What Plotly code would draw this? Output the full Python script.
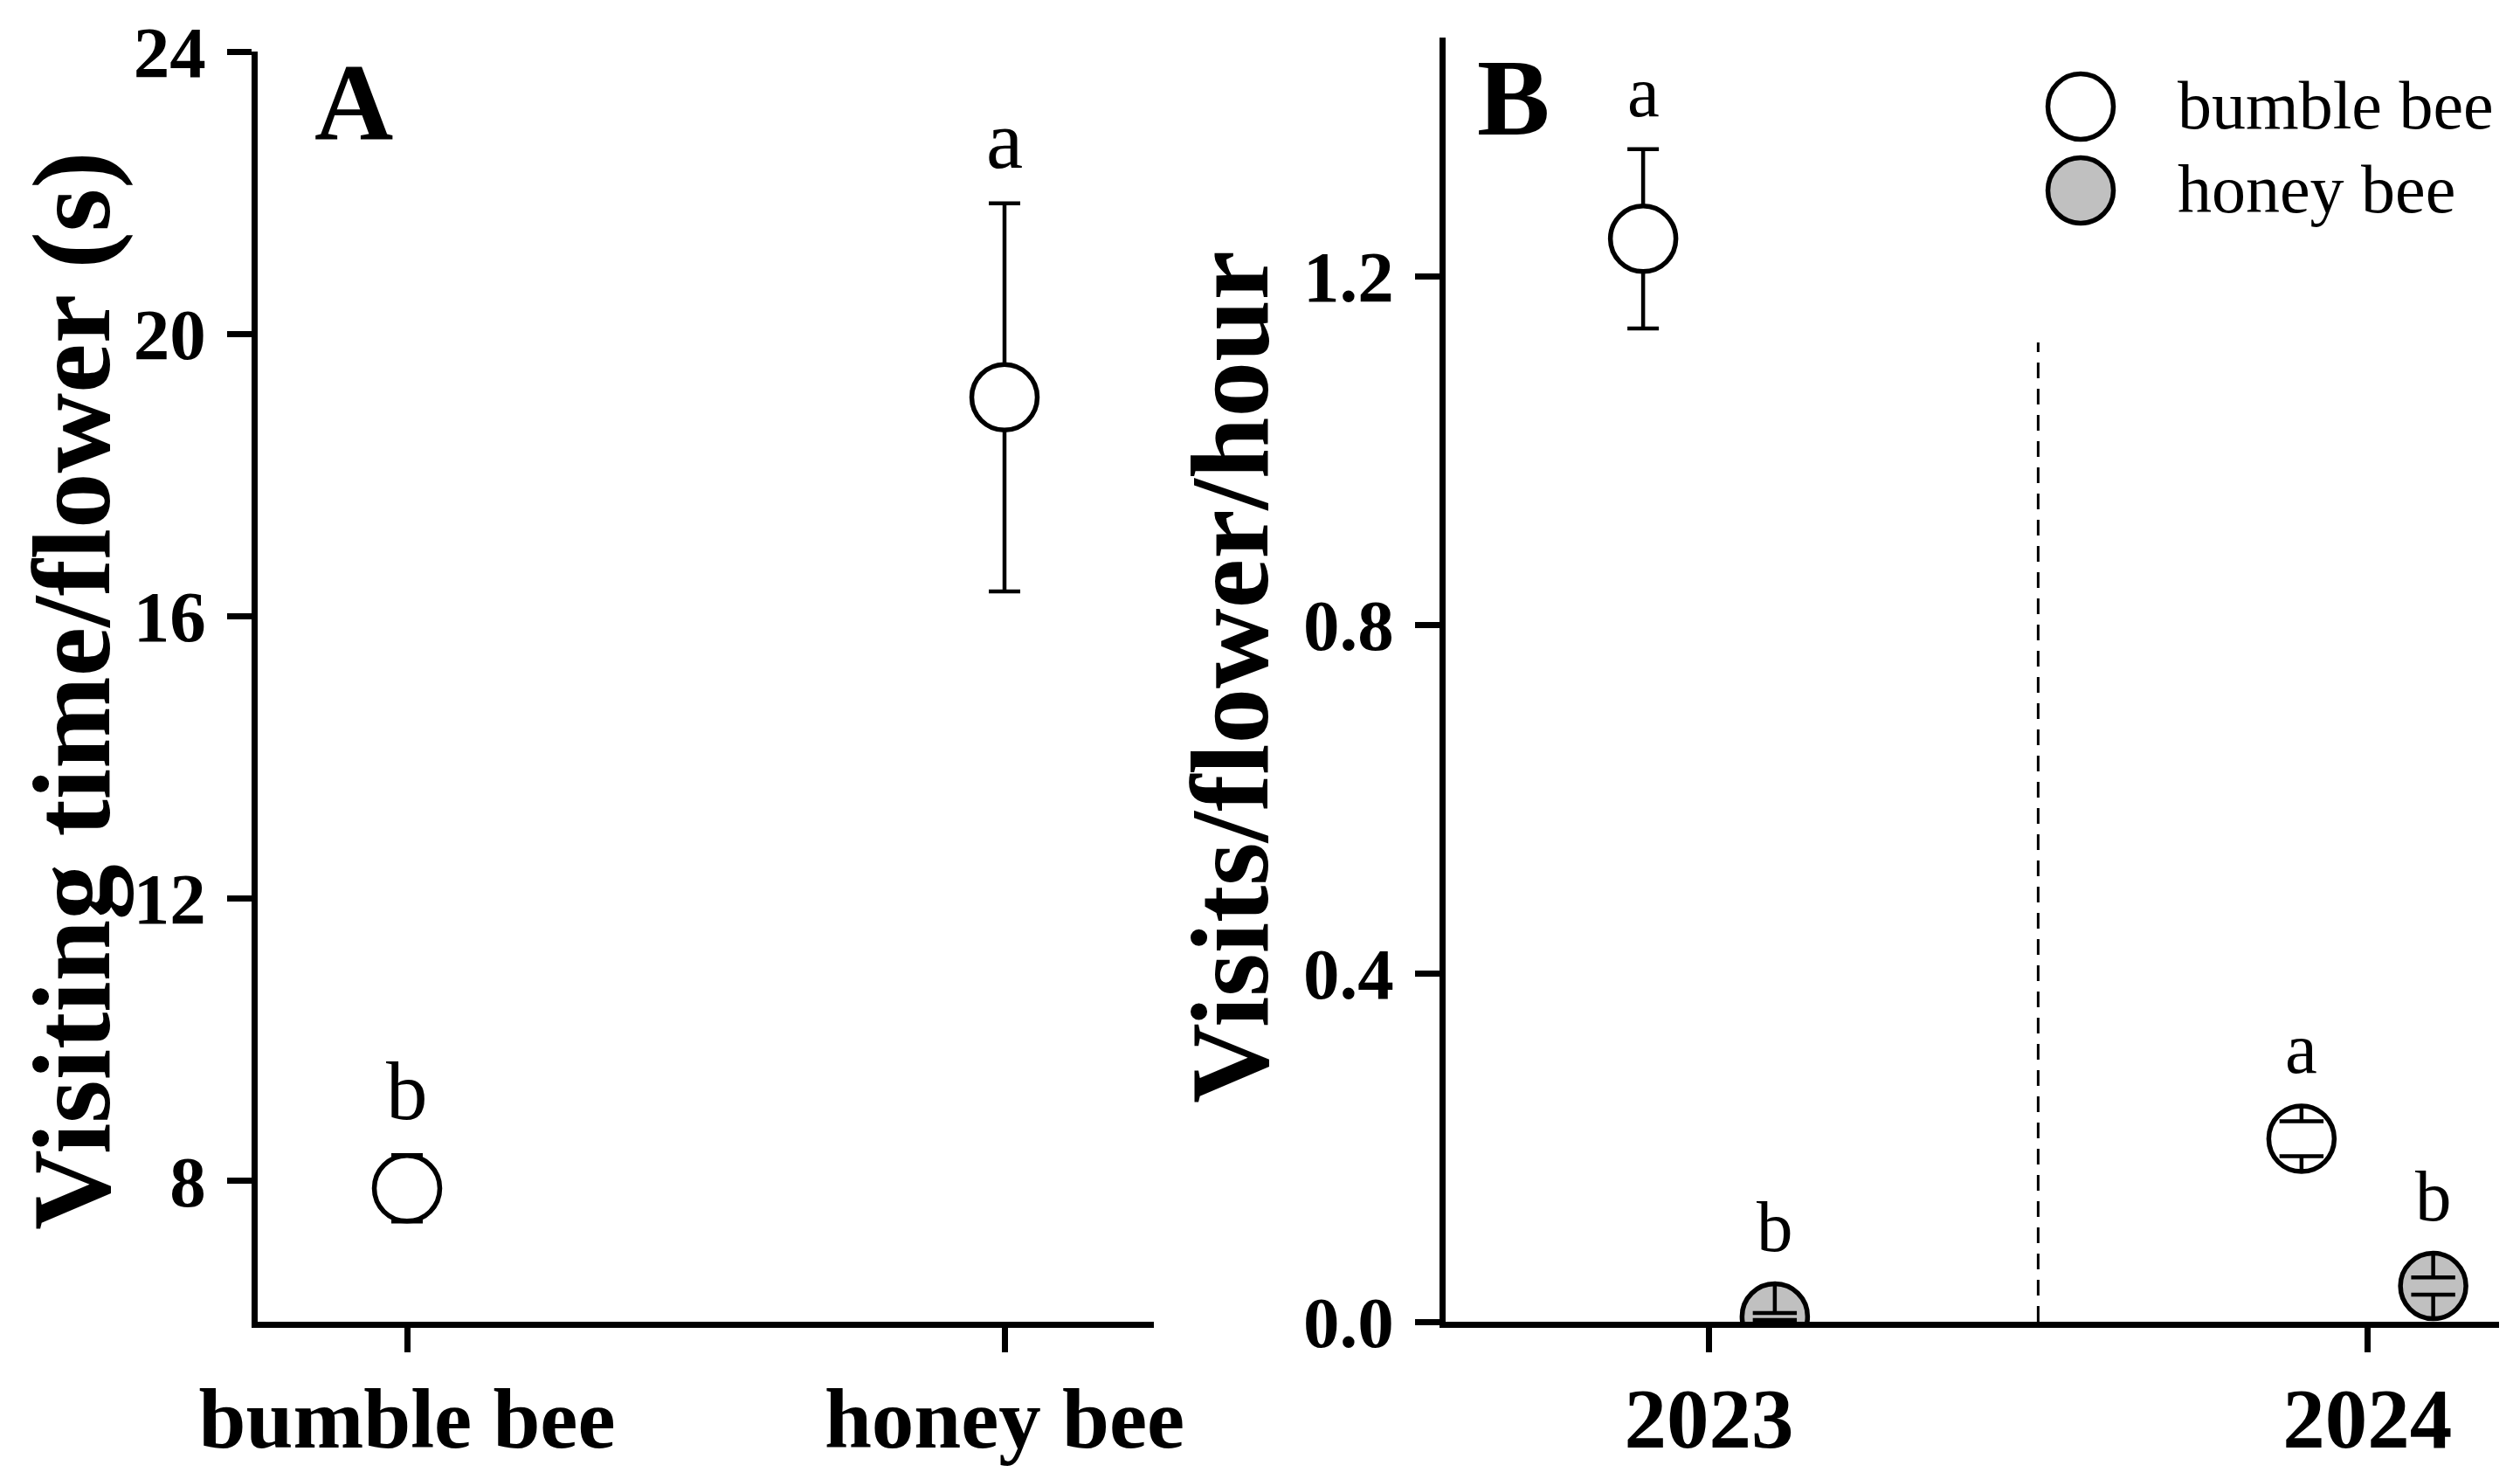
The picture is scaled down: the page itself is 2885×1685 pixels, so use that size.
import plotly.graph_objects as go

FIG_W, FIG_H = 2885, 1685
FONT = "Liberation Serif"

# panel A: visiting time per flower (s)
visit_categories = ["bumble bee", "honey bee"]
visit_time_mean = [7.89, 19.1]
visit_time_se = [0.47, 2.75]
visit_time_letters = ["b", "a"]

# panel B: visits per flower per hour
years = ["2023", "2024"]
bumble_rate_mean = [1.243, 0.21]
bumble_rate_se = [0.103, 0.02]
bumble_rate_letters = ["a", "a"]
honey_rate_mean = [0.006, 0.041]
honey_rate_se = [0.004, 0.010]
honey_rate_letters = ["b", "b"]

series_names = ["bumble bee", "honey bee"]

# geometry / style
A_YRANGE = [6, 24]
B_YRANGE = [0, 1.474]
A_XRANGE = [-0.25, 1.25]
B_XRANGE = [-0.40, 1.20]
A_XDOM = [295 / FIG_W, 1321 / FIG_W]
B_XDOM = [1655 / FIG_W, 2861 / FIG_W]
Y_BOTTOM = (FIG_H - 1513) / FIG_H
A_YDOM = [Y_BOTTOM, (FIG_H - 59) / FIG_H]
B_YDOM = [Y_BOTTOM, (FIG_H - 43) / FIG_H]
DIVIDER_TOP = 1.124

MARKER_SIZE = 75
MARKER_LINE = 5.5
CAP_HALF = 18
BAR_WIDTH = 4.5
AXIS_WIDTH = 6.5
DODGE = 0.1
LETTER_GAP = 19
WHITE = "white"
GREY = "#c0c0c0"


def px_per_unit(domain, rng):
    return (domain[1] - domain[0]) * FIG_H / (rng[1] - rng[0])


def add_means(fig, x, mean, se, fill, name, axes, ppu, letters, letter_size):
    xa, ya = axes
    # error bars first, the filled symbol hides the part inside the circle
    fig.add_trace(go.Scatter(
        x=x, y=mean, mode="markers", xaxis=xa, yaxis=ya,
        marker=dict(size=1, color="rgba(0,0,0,0)"),
        error_y=dict(type="data", array=se, color="black",
                     thickness=BAR_WIDTH, width=CAP_HALF),
        showlegend=False, hoverinfo="skip",
    ))
    fig.add_trace(go.Scatter(
        x=x, y=mean, mode="markers", name=name, xaxis=xa, yaxis=ya,
        marker=dict(size=MARKER_SIZE, color=fill,
                    line=dict(color="black", width=MARKER_LINE)),
        showlegend=False,
    ))

    # errors smaller than the symbol: caps inside, stubs out to the edge
    radius = MARKER_SIZE / 2 / ppu
    small = [i for i, s in enumerate(se) if s < 0.9 * radius]
    if small:
        xs = [x[i] for i in small]
        hi = [mean[i] + se[i] for i in small]
        lo = [mean[i] - se[i] for i in small]
        stub = [radius - se[i] for i in small]
        zeros = [0] * len(small)
        fig.add_trace(go.Scatter(
            x=xs + xs, y=hi + lo, mode="markers", xaxis=xa, yaxis=ya,
            marker=dict(symbol="line-ew", size=2 * CAP_HALF, color="black",
                        line=dict(color="black", width=BAR_WIDTH)),
            error_y=dict(type="data", symmetric=False, array=stub + zeros,
                         arrayminus=zeros + stub, color="black",
                         thickness=BAR_WIDTH, width=0),
            showlegend=False, hoverinfo="skip",
        ))

    for xi, m, s, t in zip(x, mean, se, letters):
        lift = max(s * ppu, MARKER_SIZE / 2) - s * ppu + LETTER_GAP
        fig.add_annotation(
            x=xi, y=m + s, xref=xa, yref=ya, text=t, showarrow=False,
            yanchor="bottom", yshift=lift, borderpad=0,
            font=dict(family=FONT, size=letter_size, color="black"),
        )


fig = go.Figure()

ppu_a = px_per_unit(A_YDOM, A_YRANGE)
ppu_b = px_per_unit(B_YDOM, B_YRANGE)

add_means(fig, visit_categories, visit_time_mean, visit_time_se, WHITE,
          "visiting time", ("x", "y"), ppu_a, visit_time_letters, 95)

year_pos = list(range(len(years)))
bumble_x = [p - DODGE for p in year_pos]
honey_x = [p + DODGE for p in year_pos]
add_means(fig, bumble_x, bumble_rate_mean, bumble_rate_se, WHITE,
          series_names[0], ("x2", "y2"), ppu_b, bumble_rate_letters, 83)
add_means(fig, honey_x, honey_rate_mean, honey_rate_se, GREY,
          series_names[1], ("x2", "y2"), ppu_b, honey_rate_letters, 83)

axis_common = dict(
    showline=True, linewidth=AXIS_WIDTH, linecolor="black", ticks="outside",
    ticklen=28, tickwidth=AXIS_WIDTH, tickcolor="black", showgrid=False,
    zeroline=False, automargin=False,
)
xtick_font = dict(family=FONT, size=97, color="black", weight="bold")
ytick_font = dict(family=FONT, size=83, color="black", weight="bold")

fig.update_layout(
    template="none",
    width=FIG_W, height=FIG_H,
    margin=dict(l=0, r=0, t=0, b=0, pad=0),
    paper_bgcolor="white", plot_bgcolor="white",
    font=dict(family=FONT, color="black"),
    showlegend=False,
    xaxis=dict(axis_common, domain=A_XDOM, anchor="y", type="category",
               range=A_XRANGE, tickfont=xtick_font, ticklabelstandoff=-7),
    yaxis=dict(axis_common, domain=A_YDOM, anchor="x", range=A_YRANGE,
               tick0=0, dtick=4, tickfont=ytick_font, ticklabelstandoff=8),
    xaxis2=dict(axis_common, domain=B_XDOM, anchor="y2", range=B_XRANGE,
                tickvals=year_pos, ticktext=years, tickfont=xtick_font,
                ticklabelstandoff=-7),
    yaxis2=dict(axis_common, domain=B_YDOM, anchor="x2", range=B_YRANGE,
                tick0=0, dtick=0.4, tickformat=".1f", tickfont=ytick_font,
                ticklabelstandoff=8),
)

# divider between the two years
split = (year_pos[0] + year_pos[-1]) / 2
fig.add_shape(type="line", xref="x2", yref="y2", x0=split, x1=split,
              y0=0, y1=DIVIDER_TOP, line=dict(color="black", width=3, dash="18px,12px"))

# axis titles
title_font = dict(family=FONT, size=127, color="black", weight="bold")
fig.add_annotation(text="Visiting time/flower (s)", xref="paper", yref="paper",
                   x=82 / FIG_W, y=1 - 791 / FIG_H, textangle=-90, showarrow=False,
                   xanchor="center", yanchor="middle", font=title_font)
fig.add_annotation(text="Visits/flower/hour", xref="paper", yref="paper",
                   x=1408 / FIG_W, y=1 - 775 / FIG_H, textangle=-90, showarrow=False,
                   xanchor="center", yanchor="middle", font=title_font)

# panel letters
panel_font = dict(family=FONT, size=125, color="black", weight="bold")
for label, px, py in [("A", 405, 187), ("B", 1732, 182)]:
    fig.add_annotation(text=label, xref="paper", yref="paper", x=px / FIG_W,
                       y=1 - py / FIG_H, showarrow=False, xanchor="center",
                       yanchor="bottom", borderpad=0, font=panel_font)

# legend for panel B
legend_font = dict(family=FONT, size=78, color="black")
for name, fill, cy in [(series_names[0], WHITE, 122), (series_names[1], GREY, 218)]:
    fig.add_shape(type="circle", xref="paper", yref="paper",
                  xsizemode="pixel", ysizemode="pixel",
                  xanchor=2382 / FIG_W, yanchor=1 - cy / FIG_H,
                  x0=-MARKER_SIZE / 2, x1=MARKER_SIZE / 2,
                  y0=-MARKER_SIZE / 2, y1=MARKER_SIZE / 2,
                  fillcolor=fill, line=dict(color="black", width=MARKER_LINE))
    fig.add_annotation(text=name, xref="paper", yref="paper", x=2492 / FIG_W,
                       y=1 - (cy + 43) / FIG_H, showarrow=False, xanchor="left",
                       yanchor="bottom", borderpad=0, font=legend_font)

# the page's default body margin would push the figure off the window
fig.write_html("out.html", config={"displayModeBar": False},
               post_script="document.body.style.margin = '0';")
